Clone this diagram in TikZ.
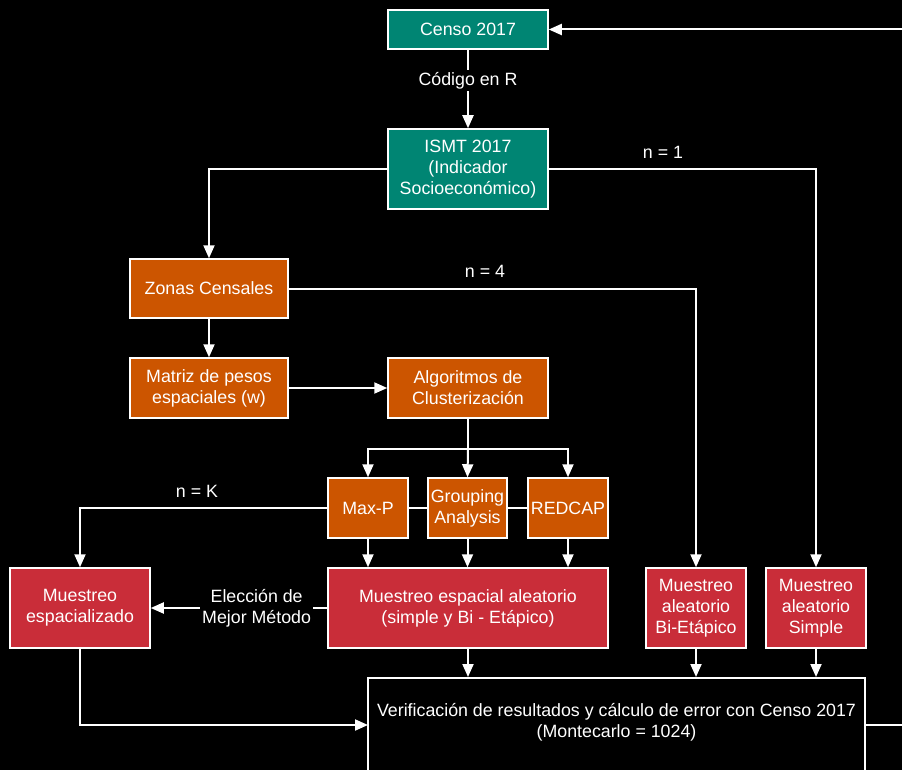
\documentclass[tikz,border=0pt]{standalone}
\usepackage{fontspec}
\setmainfont{Liberation Sans}
\usepackage{tikz}
\usetikzlibrary{arrows.meta}
\definecolor{verde}{RGB}{0,133,115}
\definecolor{naranja}{RGB}{204,85,0}
\definecolor{rojo}{RGB}{201,45,57}

\begin{document}
\begin{tikzpicture}[x=1pt,y=-1pt,
	caja/.style={draw=white,line width=1.5pt,text=white,align=center,inner sep=0pt,font=\fontsize{17.8}{21}\selectfont},
	flecha/.style={draw=white,line width=2pt,-{Triangle[length=13pt,width=11pt]}},
	linea/.style={draw=white,line width=2pt},
	etiqueta/.style={text=white,align=center,font=\fontsize{17.8}{21}\selectfont,fill=black,inner sep=2pt}]
	
	\fill[black] (0,0) rectangle (902,770);
	\clip (0,0) rectangle (902,770);
	
	% cajas
	\node[caja,fill=verde,minimum width=160pt,minimum height=39pt] (censo) at (468,29.5) {Censo 2017};
	\node[caja,fill=verde,minimum width=160pt,minimum height=80pt] (ismt) at (468,169) {ISMT 2017\\(Indicador\\Socioeconómico)};
	\node[caja,fill=naranja,minimum width=158pt,minimum height=59pt] (zonas) at (209,288.5) {Zonas Censales};
	\node[caja,fill=naranja,minimum width=158pt,minimum height=60pt] (matriz) at (209,388) {Matriz de pesos\\espaciales (w)};
	\node[caja,fill=naranja,minimum width=160pt,minimum height=60pt] (algor) at (468,388) {Algoritmos de\\Clusterización};
	\node[caja,fill=naranja,minimum width=80pt,minimum height=60pt] (maxp) at (368,508) {Max-P};
	\node[caja,fill=naranja,minimum width=79pt,minimum height=60pt] (grouping) at (467.5,508) {Grouping\\Analysis};
	\node[caja,fill=naranja,minimum width=80pt,minimum height=60pt] (redcap) at (568,508) {REDCAP};
	\node[caja,fill=rojo,minimum width=280pt,minimum height=80pt] (espacial) at (468,608) {Muestreo espacial aleatorio\\(simple y Bi - Etápico)};
	\node[caja,fill=rojo,minimum width=140pt,minimum height=80pt] (espacializado) at (80,608) {Muestreo\\espacializado};
	\node[caja,fill=rojo,minimum width=100pt,minimum height=80pt] (bi) at (696,608) {Muestreo\\aleatorio\\Bi-Etápico};
	\node[caja,fill=rojo,minimum width=100pt,minimum height=80pt] (simple) at (816,608) {Muestreo\\aleatorio\\Simple};
	\node[caja,anchor=north,minimum width=497pt,minimum height=200pt] (verif) at (616.5,677) {};
	\node[etiqueta,fill=none] (veriftxt) at (616.5,722) {Verificación de resultados y cálculo de error con Censo 2017\\(Montecarlo = 1024)};
	
	% etiquetas
	\node[etiqueta] (n1) at (663,152) {n = 1};
	\node[etiqueta] (n4) at (485,271) {n = 4};
	\node[etiqueta] (nk) at (197,491) {n = K};
	
	\coordinate (ramal) at (468,449);
	\coordinate (entrada) at (368,725);
	\coordinate (salida) at (865,725);
	\coordinate (fuera) at (930,725);
	
	% conectores
	\draw[flecha] (censo) -- node[etiqueta,pos=0.39] (codigo) {Código en R} (ismt);
	\draw[flecha] (ismt.west) -| (zonas.north);
	\draw[flecha] (ismt.east) -| (simple.north);
	\draw[flecha] (zonas.east) -| (bi.north);
	\draw[flecha] (zonas) -- (matriz);
	\draw[flecha] (matriz) -- (algor);
	\draw[linea] (algor.south) -- (ramal);
	\draw[flecha] (ramal) -| (maxp.north);
	\draw[flecha] (ramal) -- (grouping.north);
	\draw[flecha] (ramal) -| (redcap.north);
	\draw[linea] (maxp) -- (grouping);
	\draw[linea] (grouping) -- (redcap);
	\draw[flecha] (maxp.west) -| (espacializado.north);
	\draw[flecha] (maxp.south) -- (maxp.south |- espacial.north);
	\draw[flecha] (grouping.south) -- (grouping.south |- espacial.north);
	\draw[flecha] (redcap.south) -- (redcap.south |- espacial.north);
	\draw[flecha] (espacial) -- node[etiqueta,pos=0.4] (eleccion) {Elección de\\Mejor Método} (espacializado);
	\draw[flecha] (espacial.south) -- (espacial.south |- verif.north);
	\draw[flecha] (bi.south) -- (bi.south |- verif.north);
	\draw[flecha] (simple.south) -- (simple.south |- verif.north);
	\draw[flecha] (espacializado.south) |- (entrada);
	\draw[flecha] (salida) -- (fuera) |- (censo.east);
\end{tikzpicture}
\end{document}
